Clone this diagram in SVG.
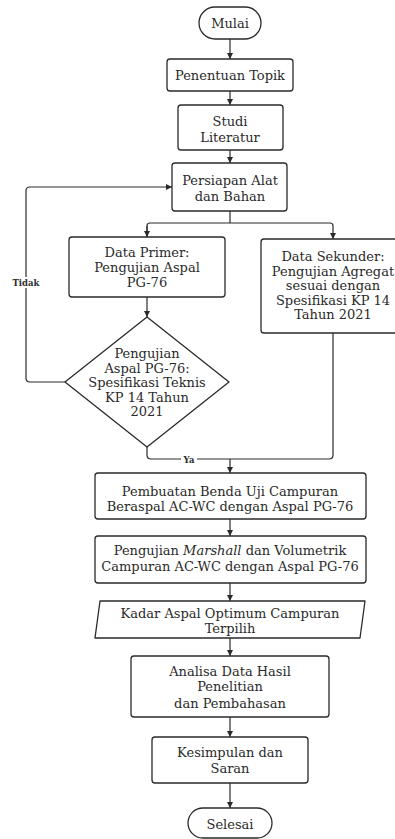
<svg xmlns="http://www.w3.org/2000/svg" width="395" height="839" viewBox="0 0 395 839">
  <style>
    .box { fill: #ffffff; stroke: #2a2a2a; stroke-width: 1.3; }
    .lbl { font-family: "DejaVu Serif", "Liberation Serif", serif; font-size: 13px; fill: #2a2a2a; text-anchor: middle; }
    .tag { font-family: "DejaVu Serif", "Liberation Serif", serif; font-size: 8.5px; font-weight: bold; fill: #2a2a2a; text-anchor: middle; }
    .wire { fill: none; stroke: #2a2a2a; stroke-width: 1.2; stroke-linejoin: round; }
  </style>
  <defs>
    <marker id="arrow" viewBox="0 0 10 10" refX="10" refY="5" markerWidth="6" markerHeight="6" markerUnits="userSpaceOnUse" orient="auto">
      <path d="M0,0 L10,5 L0,10 Z" fill="#2a2a2a"/>
    </marker>
  </defs>
  <rect width="395" height="839" fill="#ffffff"/>

  <g id="connectors">
    <path class="wire" d="M230,39 V59" marker-end="url(#arrow)"/>
    <path class="wire" d="M230,91 V105" marker-end="url(#arrow)"/>
    <path class="wire" d="M230,150 V163" marker-end="url(#arrow)"/>
    <path class="wire" d="M230,211 V223"/>
    <path class="wire" d="M147,237 V226 Q147,223 150,223 H330 Q333,223 333,226 V239" marker-end="url(#arrow)"/>
    <path class="wire" d="M147,226 V237" marker-end="url(#arrow)"/>
    <path class="wire" d="M147,297 V317" marker-end="url(#arrow)"/>
    <path class="wire" d="M65,382 H30 Q26,382 26,378 V191 Q26,187 30,187 H172" marker-end="url(#arrow)"/>
    <path class="wire" d="M147,447 V455 Q147,459 151,459 H329 Q333,459 333,455 V333"/>
    <path class="wire" d="M230,459 V473" marker-end="url(#arrow)"/>
    <path class="wire" d="M230,519 V536" marker-end="url(#arrow)"/>
    <path class="wire" d="M230,583 V601" marker-end="url(#arrow)"/>
    <path class="wire" d="M230,638 V656" marker-end="url(#arrow)"/>
    <path class="wire" d="M230,717 V737" marker-end="url(#arrow)"/>
    <path class="wire" d="M230,783 V808" marker-end="url(#arrow)"/>
    <rect x="11" y="277" width="30" height="11" fill="#ffffff"/>
    <text class="tag" x="26" y="286">Tidak</text>
    <rect x="181" y="455" width="16" height="9" fill="#ffffff"/>
    <text class="tag" x="189" y="463">Ya</text>
  </g>

  <g id="mulai">
    <rect class="box" x="199" y="7" width="62" height="32" rx="16"/>
    <text class="lbl" x="230" y="28">Mulai</text>
  </g>
  <g id="penentuan-topik">
    <rect class="box" x="167" y="59" width="126" height="32" rx="3"/>
    <text class="lbl" x="230" y="80">Penentuan Topik</text>
  </g>
  <g id="studi-literatur">
    <rect class="box" x="178" y="105" width="105" height="45" rx="3"/>
    <text class="lbl" x="230" y="126">Studi</text>
    <text class="lbl" x="230" y="142">Literatur</text>
  </g>
  <g id="persiapan">
    <rect class="box" x="172" y="163" width="115" height="48" rx="3"/>
    <text class="lbl" x="230" y="185">Persiapan Alat</text>
    <text class="lbl" x="230" y="201">dan Bahan</text>
  </g>
  <g id="data-primer">
    <rect class="box" x="69" y="237" width="156" height="60" rx="3"/>
    <text class="lbl" x="147" y="257">Data Primer:</text>
    <text class="lbl" x="147" y="272">Pengujian Aspal</text>
    <text class="lbl" x="147" y="287">PG-76</text>
  </g>
  <g id="data-sekunder">
    <rect class="box" x="261" y="239" width="144" height="94" rx="3"/>
    <text class="lbl" x="333" y="261">Data Sekunder:</text>
    <text class="lbl" x="333" y="276">Pengujian Agregat</text>
    <text class="lbl" x="333" y="290">sesuai dengan</text>
    <text class="lbl" x="333" y="305">Spesifikasi KP 14</text>
    <text class="lbl" x="333" y="319">Tahun 2021</text>
  </g>
  <g id="cek-spesifikasi">
    <path class="box" d="M147,317 L229,382 L147,447 L65,382 Z" stroke-linejoin="round"/>
    <text class="lbl" x="147" y="358">Pengujian</text>
    <text class="lbl" x="147" y="373">Aspal PG-76:</text>
    <text class="lbl" x="147" y="387">Spesifikasi Teknis</text>
    <text class="lbl" x="147" y="402">KP 14 Tahun</text>
    <text class="lbl" x="147" y="416">2021</text>
  </g>
  <g id="pembuatan-benda-uji">
    <rect class="box" x="95" y="473" width="271" height="46" rx="3"/>
    <text class="lbl" x="230" y="496">Pembuatan Benda Uji Campuran</text>
    <text class="lbl" x="230" y="511">Beraspal AC-WC dengan Aspal PG-76</text>
  </g>
  <g id="pengujian-marshall">
    <rect class="box" x="95" y="536" width="271" height="47" rx="3"/>
    <text class="lbl" x="230" y="555">Pengujian <tspan font-style="italic">Marshall</tspan>  dan Volumetrik</text>
    <text class="lbl" x="230" y="571">Campuran AC-WC dengan Aspal PG-76</text>
  </g>
  <g id="kadar-aspal-optimum">
    <path class="box" d="M100,601 H365 L360,638 H95 Z" stroke-linejoin="round"/>
    <text class="lbl" x="230" y="618">Kadar Aspal Optimum Campuran</text>
    <text class="lbl" x="230" y="633">Terpilih</text>
  </g>
  <g id="analisa-data">
    <rect class="box" x="131" y="656" width="198" height="61" rx="3"/>
    <text class="lbl" x="230" y="676">Analisa Data Hasil</text>
    <text class="lbl" x="230" y="691">Penelitian</text>
    <text class="lbl" x="230" y="708">dan Pembahasan</text>
  </g>
  <g id="kesimpulan">
    <rect class="box" x="152" y="737" width="156" height="46" rx="3"/>
    <text class="lbl" x="230" y="757">Kesimpulan dan</text>
    <text class="lbl" x="230" y="773">Saran</text>
  </g>
  <g id="selesai">
    <rect class="box" x="188" y="808" width="84" height="30" rx="15"/>
    <text class="lbl" x="230" y="829">Selesai</text>
  </g>
</svg>
